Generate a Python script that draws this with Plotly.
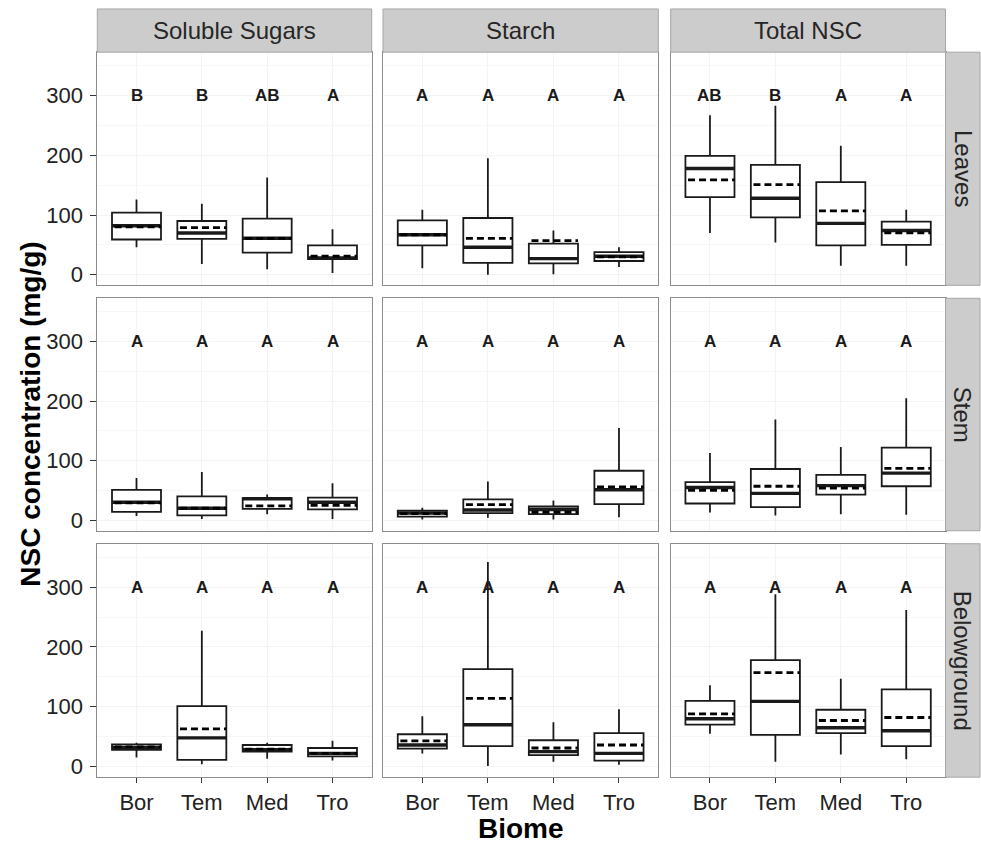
import plotly.graph_objects as go

# ---------------- data ----------------
BIOMES = ["Bor", "Tem", "Med", "Tro"]
NSC_TYPES = ["Soluble Sugars", "Starch", "Total NSC"]
ORGANS = ["Leaves", "Stem", "Belowground"]

# box statistics (mg/g) for Bor, Tem, Med, Tro
leaves_sugars = dict(low=[46, 18, 9, 3], q1=[59, 60, 37, 26], med=[82, 70, 61, 28],
                     q3=[104, 90, 94, 49], high=[126, 119, 163, 76], mean=[80, 79, 61, 31])
leaves_starch = dict(low=[11, 0, 1, 13], q1=[49, 20, 19, 23], med=[67, 46, 27, 31],
                     q3=[91, 95, 52, 38], high=[109, 195, 74, 46], mean=[67, 61, 57, 30])
leaves_total = dict(low=[70, 54, 15, 15], q1=[130, 96, 49, 50], med=[178, 128, 86, 74],
                    q3=[199, 184, 155, 89], high=[267, 283, 216, 109], mean=[159, 151, 107, 70])

stem_sugars = dict(low=[7, 2, 10, 2], q1=[14, 8, 19, 18], med=[30, 20, 36, 30],
                   q3=[51, 40, 37, 38], high=[71, 81, 43, 62], mean=[29, 20, 24, 25])
stem_starch = dict(low=[1, 4, 1, 5], q1=[6, 12, 10, 27], med=[12, 17, 18, 51],
                   q3=[16, 35, 23, 83], high=[21, 65, 33, 155], mean=[11, 26, 13, 56])
stem_total = dict(low=[13, 8, 10, 9], q1=[28, 22, 43, 57], med=[55, 45, 58, 79],
                  q3=[64, 86, 76, 122], high=[113, 169, 123, 205], mean=[50, 57, 54, 87])

below_sugars = dict(low=[15, 4, 13, 10], q1=[28, 11, 25, 17], med=[32, 48, 28, 22],
                    q3=[37, 101, 36, 31], high=[40, 227, 40, 43], mean=[33, 63, 29, 22])
below_starch = dict(low=[22, 1, 8, 3], q1=[30, 34, 19, 10], med=[36, 70, 25, 22],
                    q3=[54, 163, 44, 56], high=[84, 342, 74, 96], mean=[43, 114, 31, 36])
below_total = dict(low=[55, 8, 20, 12], q1=[70, 53, 56, 34], med=[80, 109, 65, 60],
                   q3=[110, 178, 95, 129], high=[136, 288, 147, 262], mean=[88, 157, 77, 82])

# significance letters
leaves_letters = [["B", "B", "AB", "A"], ["A", "A", "A", "A"], ["AB", "B", "A", "A"]]
stem_letters = [["A", "A", "A", "A"], ["A", "A", "A", "A"], ["A", "A", "A", "A"]]
below_letters = [["A", "A", "A", "A"], ["A", "A", "A", "A"], ["A", "A", "A", "A"]]
LETTER_Y = 300

panels = [[leaves_sugars, leaves_starch, leaves_total],
          [stem_sugars, stem_starch, stem_total],
          [below_sugars, below_starch, below_total]]
letters = [leaves_letters, stem_letters, below_letters]

# ---------------- layout constants ----------------
W, H = 981, 846
col_px = [(97.3, 371.7), (383.0, 658.3), (670.7, 945.5)]
row_px = [(52.3, 286.0), (299.0, 532.0), (545.0, 779.0)]
STRIP_TOP = 9.0
STRIP_RIGHT = 980.0
FONT = "Liberation Sans, Arial, sans-serif"
INK = "#1a1a1a"
BOXW = 0.75
YRANGE = [-17.75, 372.75]


def px_x(p):
    return p / W


def px_y(p):
    return 1 - p / H


fig = go.Figure()
layout = dict()
annotations = []
shapes = []

for r in range(3):
    for c in range(3):
        k = r * 3 + c + 1
        sfx = "" if k == 1 else str(k)
        xa, ya = "x" + sfx, "y" + sfx
        d = panels[r][c]
        xs = list(range(len(BIOMES)))
        fig.add_trace(go.Box(
            x=xs, q1=d["q1"], median=d["med"], q3=d["q3"],
            lowerfence=d["low"], upperfence=d["high"],
            width=BOXW, whiskerwidth=0, boxpoints=False,
            fillcolor="white", line=dict(color=INK, width=1.8),
            xaxis=xa, yaxis=ya, showlegend=False, hoverinfo="skip"))
        # thick median lines and dashed mean lines
        mx, my, ex, ey = [], [], [], []
        for i in xs:
            mx += [i - BOXW / 2, i + BOXW / 2, None]
            my += [d["med"][i], d["med"][i], None]
            ex += [i - BOXW / 2 + 0.04, i + BOXW / 2, None]
            ey += [d["mean"][i], d["mean"][i], None]
        fig.add_trace(go.Scatter(x=mx, y=my, mode="lines", line=dict(color=INK, width=3.4),
                                 xaxis=xa, yaxis=ya, showlegend=False, hoverinfo="skip"))
        fig.add_trace(go.Scatter(x=ex, y=ey, mode="lines",
                                 line=dict(color="black", width=2.8, dash="7px,4px"),
                                 xaxis=xa, yaxis=ya, showlegend=False, hoverinfo="skip"))
        for i in xs:
            annotations.append(dict(x=i, y=LETTER_Y, xref=xa, yref=ya, showarrow=False,
                                    xanchor="center", yanchor="middle",
                                    text="<b>%s</b>" % letters[r][c][i],
                                    font=dict(family=FONT, size=17, color=INK)))
        x0, x1 = col_px[c]
        y0, y1 = row_px[r]
        layout["xaxis" + sfx] = dict(
            domain=[px_x(x0), px_x(x1)], anchor=ya, range=[-0.6, 3.6],
            tickmode="array", tickvals=xs, ticktext=BIOMES,
            showticklabels=(r == 2), ticks="outside" if r == 2 else "",
            ticklen=5, tickwidth=1.2, tickcolor="#333333",
            tickfont=dict(family=FONT, size=22, color="#222222"),
            showline=True, mirror=True, linecolor="#8c8c8c", linewidth=1,
            showgrid=True, gridcolor="#f4f4f4", gridwidth=1, zeroline=False, fixedrange=True)
        layout["yaxis" + sfx] = dict(
            domain=[px_y(y1), px_y(y0)], anchor=xa, range=YRANGE,
            tickmode="array", tickvals=[0, 100, 200, 300],
            showticklabels=(c == 0), ticks="outside" if c == 0 else "",
            ticklen=6, tickwidth=1.2, tickcolor="#333333", ticklabelstandoff=3,
            tickfont=dict(family=FONT, size=22, color="#222222"),
            showline=True, mirror=True, linecolor="#8c8c8c", linewidth=1,
            showgrid=True, gridcolor="#f3f3f3", gridwidth=1, zeroline=False,
            minor=dict(tickvals=[50, 150, 250, 350], showgrid=True, gridcolor="#f7f7f7"),
            fixedrange=True)

# top strips
for c in range(3):
    x0, x1 = col_px[c]
    shapes.append(dict(type="rect", xref="paper", yref="paper",
                       x0=px_x(x0), x1=px_x(x1), y0=px_y(row_px[0][0]), y1=px_y(STRIP_TOP),
                       fillcolor="#cccccc", line=dict(color="#a6a6a6", width=1)))
    annotations.append(dict(x=px_x((x0 + x1) / 2), y=px_y((STRIP_TOP + row_px[0][0]) / 2),
                            xref="paper", yref="paper", showarrow=False, text=NSC_TYPES[c],
                            xanchor="center", yanchor="middle",
                            font=dict(family=FONT, size=24, color="#262626")))
# right strips
for r in range(3):
    y0, y1 = row_px[r]
    xs0 = col_px[2][1]
    shapes.append(dict(type="rect", xref="paper", yref="paper",
                       x0=px_x(xs0), x1=px_x(STRIP_RIGHT), y0=px_y(y1), y1=px_y(y0),
                       fillcolor="#cccccc", line=dict(color="#a6a6a6", width=1)))
    annotations.append(dict(x=px_x((xs0 + STRIP_RIGHT) / 2), y=px_y((y0 + y1) / 2),
                            xref="paper", yref="paper", showarrow=False, text=ORGANS[r],
                            xanchor="center", yanchor="middle",
                            textangle=90, font=dict(family=FONT, size=24, color="#262626")))

# axis titles
annotations.append(dict(x=px_x((col_px[0][0] + col_px[2][1]) / 2), y=px_y(830),
                        xref="paper", yref="paper", showarrow=False, text="<b>Biome</b>",
                        xanchor="center", yanchor="middle",
                        font=dict(family=FONT, size=28, color="black")))
annotations.append(dict(x=px_x(31), y=px_y((row_px[0][0] + row_px[2][1]) / 2),
                        xref="paper", yref="paper", showarrow=False,
                        xanchor="center", yanchor="middle",
                        text="<b>NSC concentration (mg/g)</b>", textangle=-90,
                        font=dict(family=FONT, size=28, color="black")))

fig.update_layout(
    width=W, height=H, margin=dict(l=0, r=0, t=0, b=0),
    paper_bgcolor="white", plot_bgcolor="white", showlegend=False,
    annotations=annotations, shapes=shapes, **layout)

fig.write_html("out.html")
